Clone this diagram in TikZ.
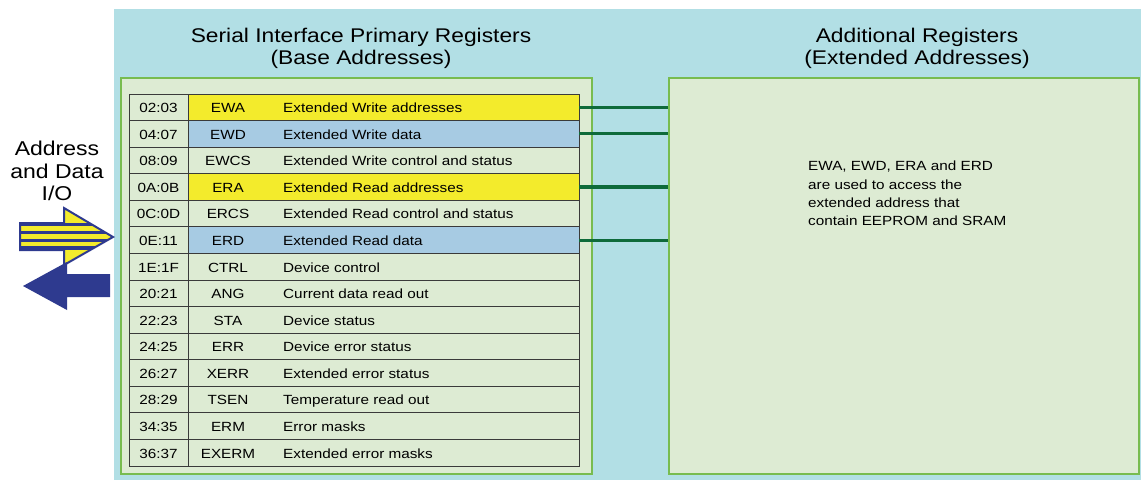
\documentclass[tikz,border=0pt]{standalone}
\usepackage{fontspec}
\setmainfont[FakeStretch=1.15]{Liberation Sans}

\definecolor{bgcyan}{HTML}{B2DFE5}
\definecolor{pnlgreen}{HTML}{DDEBD3}
\definecolor{brdgreen}{HTML}{78BC4F}
\definecolor{ylw}{HTML}{F3EB2C}
\definecolor{blu}{HTML}{A7CBE3}
\definecolor{lnkgreen}{HTML}{0E6B3A}
\definecolor{arrblue}{HTML}{2E3A8F}
\definecolor{gridgray}{HTML}{3A3A3A}

\newcommand\regfont{\fontsize{13.3}{16}\selectfont}
\newcommand\notefont{\fontsize{13.3}{18.2}\selectfont}
\newcommand\ttlfont{\fontsize{19.8}{22.5}\selectfont}
\newcommand\lblfont{\fontsize{20}{22.5}\selectfont}

\tikzset{
  panel/.style={draw=brdgreen,line width=2pt,fill=pnlgreen,rectangle,inner sep=0pt},
  regrow/.style={draw=gridgray,line width=0.9pt,rectangle,minimum width=391pt,minimum height=26.57pt,inner sep=0pt},
  addrcell/.style={draw=gridgray,line width=0.9pt,rectangle,minimum width=59pt,minimum height=26.57pt,inner sep=0pt,text height=11pt,text depth=0.2pt,font=\regfont},
  regtext/.style={inner sep=0pt,text height=11pt,text depth=0.2pt,font=\regfont},
  link/.style={draw=lnkgreen,line width=3pt},
}

\begin{document}
\begin{tikzpicture}[x=1pt,y=-1pt]
\useasboundingbox (0,0) rectangle (1141,480);
\fill[bgcyan] (114,9) rectangle (1141,480);

\node[panel,minimum width=471pt,minimum height=396pt] (lp) at (356.5,276) {};
\node[panel,minimum width=470pt,minimum height=396pt] (rp) at (904,276) {};

\node[align=center,font=\ttlfont] (t1) at (361,48.5) {Serial Interface Primary Registers\\(Base Addresses)};
\node[align=center,font=\ttlfont] (t2) at (917,48.5) {Additional Registers\\(Extended Addresses)};

\foreach \a/\n/\d/\c [count=\i] in {
  02:03/EWA/Extended Write addresses/ylw,
  04:07/EWD/Extended Write data/blu,
  08:09/EWCS/Extended Write control and status/none,
  0A:0B/ERA/Extended Read addresses/ylw,
  0C:0D/ERCS/Extended Read control and status/none,
  0E:11/ERD/Extended Read data/blu,
  1E:1F/CTRL/Device control/none,
  20:21/ANG/Current data read out/none,
  22:23/STA/Device status/none,
  24:25/ERR/Device error status/none,
  26:27/XERR/Extended error status/none,
  28:29/TSEN/Temperature read out/none,
  34:35/ERM/Error masks/none,
  36:37/EXERM/Extended error masks/none} {
  \node[regrow,fill=\c] (r\i) at (383.5,{94+(\i-0.5)*26.57}) {};
  \node[addrcell] (a\i) at (158.5,{94+(\i-0.5)*26.57}) {\a};
  \node[regtext] (n\i) at (228,{94+(\i-0.5)*26.57}) {\n};
  \node[regtext,anchor=west] (d\i) at (283,{94+(\i-0.5)*26.57}) {\d};
}

\foreach \i in {1,2,4,6} {
  \draw[link] (r\i.east) -- (r\i.east -| rp.west);
}

\node[anchor=north west,align=left,inner sep=0pt,font=\notefont] (note) at (808,161) {EWA, EWD, ERA and ERD\\are used to access the\\extended address that\\contain EEPROM and SRAM};

\node[anchor=north,align=center,inner sep=0pt,font=\lblfont] (io) at (57,141) {Address\\and Data\\I/O};

\begin{scope}
  \clip (20,223) -- (64,223) -- (64,208) -- (113,237) -- (64,265) -- (64,250) -- (20,250) -- cycle;
  \fill[ylw] (15,200) rectangle (120,270);
  \foreach \s in {224.5,232.3,240.2,248} {
    \fill[arrblue] (15,\s-1.6) rectangle (120,\s+1.6);
  }
\end{scope}
\draw[arrblue,line width=2pt,line join=miter] (20,223) -- (64,223) -- (64,208) -- (113,237) -- (64,265) -- (64,250) -- (20,250) -- cycle;

\fill[arrblue] (110,274) -- (67,274) -- (67,262) -- (23,286) -- (67,310) -- (67,297) -- (110,297) -- cycle;
\end{tikzpicture}
\end{document}
